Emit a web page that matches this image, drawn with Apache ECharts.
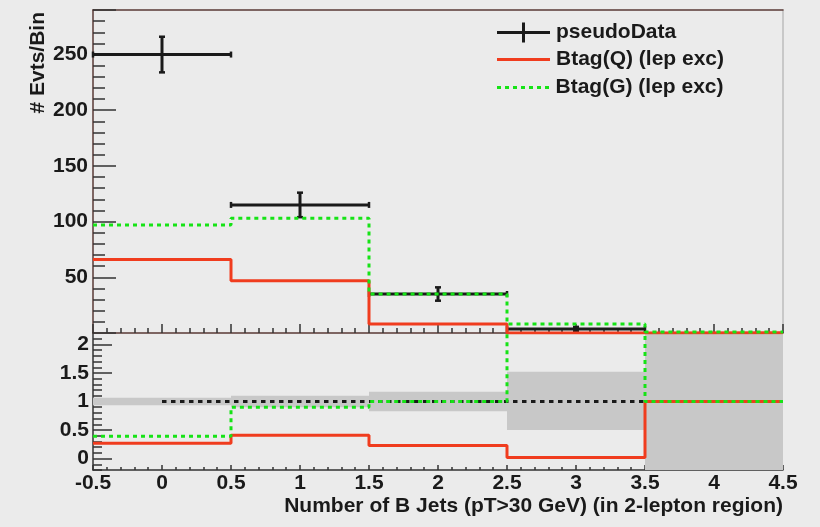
<!DOCTYPE html>
<html>
<head>
<meta charset="utf-8">
<script src="https://cdn.jsdelivr.net/npm/echarts@6/dist/echarts.min.js"></script>
<style>
html,body{margin:0;padding:0;background:#ebebeb;}
#main{width:820px;height:527px;}
</style>
</head>
<body>
<div id="main"></div>
<script>
// bins
var binEdges = [-0.5, 0.5, 1.5, 2.5, 3.5, 4.5];
var binCentres = [0, 1, 2, 3, 4];
// top panel (events per bin)
var pseudoData = [250, 115, 35, 3.5, 0];
var pseudoErr = [16, 11, 6, 2, 0];
var btagQ = [66, 47, 8, 0.1, 0.3];
var btagG = [97, 103, 35, 8, 0.8];
// ratio panel
var ratioQ = [0.27, 0.41, 0.23, 0.02, 1];
var ratioG = [0.39, 0.90, 1.0, 2.6, 1];
var bandLo = [0.935, 0.90, 0.83, 0.50, -0.2];
var bandHi = [1.065, 1.10, 1.17, 1.52, 2.2];
var unityX = [0, 4.5];
var unityY = [1, 1];

var FONT = 'Liberation Sans';
var INK = '#1a1a1a';
var RED = '#f03c1e';
var GREEN = '#16e316';

// histogram as steps: one point per bin edge
function steps(vals) {
    var out = [];
    for (var i = 0; i < vals.length; i++) out.push([binEdges[i], vals[i]]);
    out.push([binEdges[vals.length], vals[vals.length - 1]]);
    return out;
}

var dataRows = [];
for (var i = 0; i < binCentres.length; i++) {
    if (pseudoData[i] > 0) dataRows.push([binCentres[i], pseudoData[i], pseudoErr[i], binEdges[i], binEdges[i + 1]]);
}
var bandRows = [];
for (var i = 0; i < binCentres.length; i++) {
    bandRows.push([binEdges[i], binEdges[i + 1], bandLo[i], bandHi[i]]);
}

var myChart = echarts.init(document.getElementById('main'));

var axisDark = {color: '#333', width: 1.5};
var legendText = {fontSize: 21, fontWeight: 'bold', color: INK, fontFamily: FONT, padding: [0, 0, 0, 1]};
var dotsIcon = 'path://M0,0h4v3h-4zM8,0h4v3h-4zM16,0h4v3h-4zM24,0h4v3h-4zM32,0h4v3h-4zM40,0h4v3h-4zM48,0h4v3h-4z';

var option = {
    backgroundColor: '#ebebeb',
    animation: false,
    textStyle: {fontFamily: FONT},
    grid: [
        {left: 93, top: 10, width: 690, height: 323, outerBoundsMode: 'none'},
        {left: 93, top: 333, width: 690, height: 137, outerBoundsMode: 'none'}
    ],
    legend: [
        {
            left: 492, top: 17, itemWidth: 53, itemHeight: 20,
            textStyle: legendText,
            data: [{name: 'pseudoData', icon: 'path://M0,8.5h25v-8.5h3v8.5h25v3h-25v8.5h-3v-8.5h-25z', itemStyle: {color: INK, borderWidth: 0}}]
        },
        {
            left: 492, top: 44, itemWidth: 53, itemHeight: 3,
            textStyle: legendText,
            data: [{name: 'Btag(Q) (lep exc)', icon: 'path://M0,0h53v3h-53z', itemStyle: {color: RED, borderWidth: 0}}]
        },
        {
            left: 492, top: 72, itemWidth: 53, itemHeight: 3,
            textStyle: legendText,
            data: [{name: 'Btag(G) (lep exc)', icon: dotsIcon, itemStyle: {color: GREEN, borderWidth: 0}}]
        }
    ],
    graphic: [{
        type: 'text', x: 38, y: 12, rotation: Math.PI / 2,
        style: {text: '# Evts/Bin', fontSize: 21, fontWeight: 'bold', fontFamily: FONT, fill: INK, align: 'right', verticalAlign: 'middle'}
    }],
    xAxis: [
        {   // top panel bottom
            gridIndex: 0, type: 'value', position: 'bottom', min: -0.5, max: 4.5, interval: 0.5,
            axisLine: {onZero: false, lineStyle: {color: '#5a3a36', width: 1.5}},
            axisTick: {inside: true, length: 9, lineStyle: axisDark},
            minorTick: {show: true, splitNumber: 5, length: 5, lineStyle: axisDark},
            axisLabel: {show: false}, splitLine: {show: false}
        },
        {   // top panel top border
            gridIndex: 0, type: 'value', position: 'top', min: -0.5, max: 4.5,
            axisLine: {onZero: false, lineStyle: {color: '#5a3a36', width: 1.5}},
            axisTick: {show: false}, axisLabel: {show: false}, splitLine: {show: false}
        },
        {   // ratio panel
            gridIndex: 1, type: 'value', position: 'bottom', min: -0.5, max: 4.5, interval: 0.5,
            axisLine: {onZero: false, lineStyle: axisDark},
            axisTick: {inside: true, length: 5, lineStyle: axisDark},
            minorTick: {show: true, splitNumber: 5, length: 3, lineStyle: axisDark},
            axisLabel: {fontSize: 21, fontWeight: 'bold', color: INK, margin: 3},
            splitLine: {show: false},
            name: 'Number of B Jets (pT>30 GeV) (in 2-lepton region)',
            nameLocation: 'end', nameGap: 0,
            nameTextStyle: {fontSize: 21, fontWeight: 'bold', color: INK, align: 'right', verticalAlign: 'top', padding: [26, 0, 0, 0]}
        }
    ],
    yAxis: [
        {
            gridIndex: 0, type: 'value', position: 'left', offset: 0, min: 0, max: 290, interval: 50,
            axisLine: {onZero: false, lineStyle: {color: '#5a3a36', width: 1.5}},
            axisTick: {inside: true, length: 23, lineStyle: axisDark},
            axisLabel: {fontSize: 21, fontWeight: 'bold', color: INK, margin: 5, padding: [5, 0, 0, 0],
                formatter: function (v) { return (v === 0 || v % 50 !== 0) ? '' : v; }},
            splitLine: {show: false}
        },
        {
            gridIndex: 0, type: 'value', position: 'left', offset: 0, min: 0, max: 290, interval: 10,
            axisLine: {show: false, onZero: false},
            axisTick: {inside: true, length: 12, lineStyle: axisDark},
            axisLabel: {show: false}, splitLine: {show: false}
        },
        {
            gridIndex: 0, type: 'value', position: 'right', offset: 0, min: 0, max: 290,
            axisLine: {onZero: false, lineStyle: {color: '#bdbdbd', width: 1.5}},
            axisTick: {show: false}, axisLabel: {show: false}, splitLine: {show: false}
        },
        {
            gridIndex: 1, type: 'value', position: 'left', offset: 0, min: -0.2, max: 2.2, splitNumber: 5,
            axisLine: {onZero: false, lineStyle: axisDark},
            axisTick: {inside: true, length: 19, lineStyle: axisDark},
            axisLabel: {fontSize: 21, fontWeight: 'bold', color: INK, margin: 4, padding: [5, 0, 0, 0],
                showMinLabel: false, showMaxLabel: false},
            splitLine: {show: false}
        },
        {
            gridIndex: 1, type: 'value', position: 'left', offset: 0, min: -0.2, max: 2.2, interval: 0.1,
            axisLine: {show: false, onZero: false},
            axisTick: {inside: true, length: 9, lineStyle: axisDark},
            axisLabel: {show: false}, splitLine: {show: false}
        }
    ],
    series: [
        {
            name: 'Btag(Q) (lep exc)', type: 'line', step: 'end',
            xAxisIndex: 0, yAxisIndex: 0, symbol: 'none',
            data: steps(btagQ),
            itemStyle: {color: RED},
            lineStyle: {color: RED, width: 3}
        },
        {
            name: 'Btag(G) (lep exc)', type: 'line', step: 'end',
            xAxisIndex: 0, yAxisIndex: 0, symbol: 'none',
            data: steps(btagG),
            itemStyle: {color: GREEN},
            lineStyle: {color: GREEN, width: 3, type: [4, 4]}
        },
        {
            name: 'pseudoData', type: 'custom',
            xAxisIndex: 0, yAxisIndex: 0,
            itemStyle: {color: INK},
            encode: {x: 0, y: 1},
            data: dataRows,
            renderItem: function (params, api) {
                var y = api.value(1), e = api.value(2);
                var l = api.coord([api.value(3), y]);
                var r = api.coord([api.value(4), y]);
                var t = api.coord([api.value(0), y + e]);
                var b = api.coord([api.value(0), y - e]);
                var st = {stroke: INK, lineWidth: 3};
                var cap = {stroke: INK, lineWidth: 2.5};
                return {
                    type: 'group',
                    children: [
                        {type: 'line', shape: {x1: l[0], y1: l[1], x2: r[0], y2: r[1]}, style: st},
                        {type: 'line', shape: {x1: t[0], y1: t[1], x2: b[0], y2: b[1]}, style: st},
                        {type: 'line', shape: {x1: l[0], y1: l[1] - 3, x2: l[0], y2: l[1] + 3}, style: cap},
                        {type: 'line', shape: {x1: r[0], y1: r[1] - 3, x2: r[0], y2: r[1] + 3}, style: cap},
                        {type: 'line', shape: {x1: t[0] - 3, y1: t[1], x2: t[0] + 3, y2: t[1]}, style: cap},
                        {type: 'line', shape: {x1: b[0] - 3, y1: b[1], x2: b[0] + 3, y2: b[1]}, style: cap}
                    ]
                };
            }
        },
        {
            name: 'band', type: 'custom',
            xAxisIndex: 2, yAxisIndex: 3,
            encode: {x: [0, 1], y: [2, 3]},
            data: bandRows,
            renderItem: function (params, api) {
                var p1 = api.coord([api.value(0), api.value(3)]);
                var p2 = api.coord([api.value(1), api.value(2)]);
                return {
                    type: 'rect',
                    shape: {x: p1[0], y: p1[1], width: p2[0] - p1[0], height: p2[1] - p1[1]},
                    style: {fill: '#c8c8c8'}
                };
            }
        },
        {
            name: 'unity', type: 'line',
            xAxisIndex: 2, yAxisIndex: 3, symbol: 'none',
            data: unityX.map(function (x, i) { return [x, unityY[i]]; }),
            lineStyle: {color: INK, width: 3, type: [4.5, 4.5]}
        },
        {
            name: 'Btag(Q) (lep exc)', type: 'line', step: 'end',
            xAxisIndex: 2, yAxisIndex: 3, symbol: 'none',
            data: steps(ratioQ),
            itemStyle: {color: RED},
            lineStyle: {color: RED, width: 3}
        },
        {
            name: 'Btag(G) (lep exc)', type: 'line', step: 'end',
            xAxisIndex: 2, yAxisIndex: 3, symbol: 'none',
            data: steps(ratioG),
            itemStyle: {color: GREEN},
            lineStyle: {color: GREEN, width: 3, type: [4, 4]}
        }
    ]
};

myChart.setOption(option);
</script>
</body>
</html>
